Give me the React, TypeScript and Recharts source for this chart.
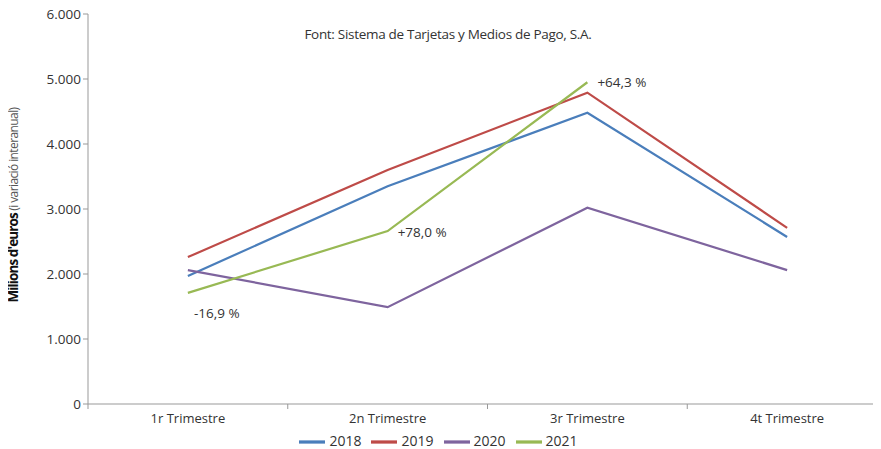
import { LineChart, Line, XAxis, YAxis, Legend, LabelList } from "recharts";

const quarters = ["1r Trimestre", "2n Trimestre", "3r Trimestre", "4t Trimestre"];
const s2018 = [1970, 3350, 4480, 2570];
const s2019 = [2260, 3600, 4790, 2710];
const s2020 = [2060, 1490, 3020, 2060];
const s2021 = [1710, 2660, 4950, null];
const greenLabels = ["-16,9 %", "+78,0 %", "+64,3 %", ""];
const yTicks = [0, 1000, 2000, 3000, 4000, 5000, 6000];

const data = quarters.map((q, i) => ({
  q,
  y2018: s2018[i],
  y2019: s2019[i],
  y2020: s2020[i],
  y2021: s2021[i],
}));

const FONT = "'Open Sans', Lato, sans-serif";

const fmt = (v: number) => (v === 0 ? "0" : v.toLocaleString("de-DE"));

function XTick(props: any) {
  const { x, y, payload, index } = props;
  const off = payload?.offset ?? 0;
  return (
    <g>
      <line x1={x - off} y1={y - 8} x2={x - off} y2={y - 3} stroke="#999" />
      {index === quarters.length - 1 && (
        <line x1={x + off} y1={y - 8} x2={x + off} y2={y - 3} stroke="#999" />
      )}
      <text x={x} y={y + 11} textAnchor="middle" fontSize={13} fill="#333" fontFamily={FONT}>
        {payload.value}
      </text>
    </g>
  );
}

function GreenLabel(props: any) {
  const { x, y, index } = props;
  const txt = greenLabels[index];
  if (!txt) return null;
  let dx = 10;
  let dy = 6;
  if (index === 0) {
    dx = 6;
    dy = 25;
  } else if (index === 2) {
    dy = 5;
  }
  return (
    <text x={x + dx} y={y + dy} fontSize={13.5} fill="#333" fontFamily={FONT}>
      {txt}
    </text>
  );
}

function YLabel(props: any) {
  const { viewBox } = props;
  const cx = 18;
  const cy = viewBox.y + viewBox.height / 2 - 4;
  return (
    <text
      x={cx}
      y={cy}
      transform={`rotate(-90, ${cx}, ${cy})`}
      textAnchor="middle"
      fontFamily={FONT}
      fill="#111"
    >
      <tspan fontSize={13.5} fontWeight="bold" letterSpacing={-0.9}>Milions d'euros </tspan>
      <tspan fontSize={12} fill="#555" letterSpacing={-0.6}>(i variació interanual)</tspan>
    </text>
  );
}

export default function App() {
  return (
    <div
      style={{
        position: "relative",
        width: 881,
        height: 449,
        margin: "-8px 0 0 -8px",
        overflow: "hidden",
        background: "#fff",
        fontFamily: FONT,
      }}
    >
      <div style={{ position: "absolute", left: 0, top: 0, width: 881, height: 3, background: "#f26d7a" }} />
      <div
        style={{
          position: "absolute",
          left: 0,
          width: 896,
          top: 25,
          textAlign: "center",
          fontSize: 13.5,
          color: "#333",
          letterSpacing: -0.3,
        }}
      >
        Font: Sistema de Tarjetas y Medios de Pago, S.A.
      </div>
      <LineChart width={890} height={449} data={data} margin={{ top: 14, right: 3, left: 0, bottom: 0 }}>
        <XAxis
          dataKey="q"
          scale="band"
          stroke="#999"
          tickLine={false}
          tick={<XTick />}
          height={25}
          interval={0}
        />
        <YAxis
          domain={[0, 6000]}
          ticks={yTicks}
          tickFormatter={fmt}
          stroke="#999"
          tickSize={5}
          width={88}
          tick={{ fontSize: 13.5, fill: "#333", fontFamily: FONT }}
          label={<YLabel />}
        />
        <Legend
          verticalAlign="bottom"
          height={20}
          iconType="plainline"
          iconSize={26}
          wrapperStyle={{ fontSize: 14, color: "#333", fontFamily: FONT, bottom: 0 }}
          formatter={(v: string) => <span style={{ color: "#333" }}>{v}</span>}
        />
        <Line dataKey="y2018" name="2018" stroke="#4a7ebb" strokeWidth={2.2} dot={false} isAnimationActive={false} />
        <Line dataKey="y2019" name="2019" stroke="#be4b48" strokeWidth={2.2} dot={false} isAnimationActive={false} />
        <Line dataKey="y2020" name="2020" stroke="#7e649e" strokeWidth={2.2} dot={false} isAnimationActive={false} />
        <Line dataKey="y2021" name="2021" stroke="#98b954" strokeWidth={2.2} dot={false} isAnimationActive={false}>
          <LabelList dataKey="y2021" content={<GreenLabel />} />
        </Line>
      </LineChart>
    </div>
  );
}
